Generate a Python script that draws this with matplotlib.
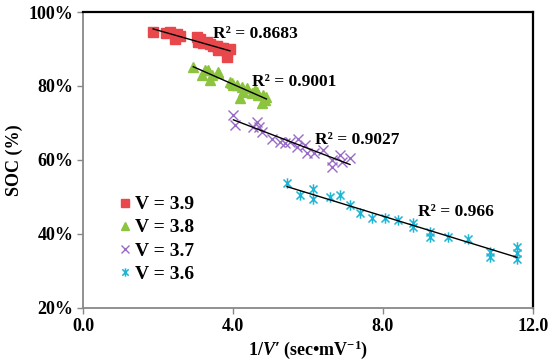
import numpy as np
import matplotlib
matplotlib.use("Agg")
import matplotlib.pyplot as plt
from matplotlib.path import Path

plt.rcParams["font.family"] = ["Liberation Serif", "DejaVu Serif"]
plt.rcParams["font.weight"] = "bold"
plt.rcParams["mathtext.fontset"] = "custom"
plt.rcParams["mathtext.rm"] = "Liberation Serif:bold"
plt.rcParams["mathtext.it"] = "Liberation Serif:italic:bold"
plt.rcParams["mathtext.bf"] = "Liberation Serif:bold"

# --- data ------------------------------------------------------------------
x_39 = [1.87, 2.20, 2.32, 2.50, 2.59, 2.45, 3.03, 3.12, 3.07, 3.20, 3.30, 3.39,
        3.47, 3.58, 3.60, 3.65, 3.74, 3.83, 3.92, 3.83]
y_39 = [94.7, 94.2, 94.7, 94.1, 93.5, 92.6, 93.2, 92.6, 92.0, 91.5, 91.8, 91.3,
        90.8, 90.8, 89.8, 90.2, 90.4, 89.5, 89.9, 87.9]

x_38 = [2.94, 3.16, 3.25, 3.34, 3.43, 3.39, 3.60, 3.61, 3.92, 3.96, 4.00, 4.10,
        4.19, 4.23, 4.27, 4.36, 4.50, 4.59, 4.63, 4.67, 4.76, 4.81, 4.85, 4.89]
y_38 = [85.2, 83.0, 84.3, 84.3, 83.0, 81.6, 83.9, 83.4, 81.2, 80.7, 80.3, 80.3,
        76.7, 79.8, 78.5, 79.4, 78.0, 78.9, 78.5, 77.6, 75.3, 77.6, 76.2, 77.1]

x_37 = [4.01, 4.05, 4.54, 4.63, 4.68, 4.76, 5.03, 5.25, 5.39, 5.52, 5.70, 5.74,
        5.92, 5.96, 6.15, 6.41, 6.63, 6.63, 6.85, 6.90, 7.12]
y_37 = [72.2, 69.5, 69.0, 70.4, 69.0, 67.6, 65.8, 64.9, 64.5, 64.9, 63.6, 65.8,
        64.1, 61.8, 61.8, 62.7, 60.0, 58.2, 61.4, 59.5, 60.5]

x_36 = [5.44, 5.79, 6.13, 6.13, 6.59, 6.85, 7.12, 7.39, 7.70, 8.05, 8.40, 8.80,
        8.80, 9.25, 9.25, 9.73, 10.27, 10.85, 10.85, 11.57, 11.57, 11.57]
y_36 = [53.8, 50.5, 52.2, 49.5, 50.0, 50.5, 47.8, 45.7, 44.3, 44.3, 43.8, 43.0,
        41.9, 40.5, 39.2, 39.2, 38.6, 35.1, 33.8, 36.5, 34.9, 33.2]

labels = ["V = 3.9", "V = 3.8", "V = 3.7", "V = 3.6"]
r2_text = ["R² = 0.8683", "R² = 0.9001", "R² = 0.9027", "R² = 0.966"]
r2_pos = [(3.47, 94.1), (4.50, 81.1), (6.19, 65.4), (8.93, 45.9)]

# Excel-like "star" marker: an x with a vertical stroke
star = Path([(-1, -1), (1, 1), (-1, 1), (1, -1), (0, -1.3), (0, 1.3)],
            [Path.MOVETO, Path.LINETO, Path.MOVETO, Path.LINETO,
             Path.MOVETO, Path.LINETO])

series = [
    (x_39, y_39, dict(marker="s", ms=7, color="#E8474B", mec="#E8474B")),
    (x_38, y_38, dict(marker="^", ms=7.5, color="#8CC43F", mec="#8CC43F")),
    (x_37, y_37, dict(marker="x", ms=7.5, mew=1.0, color="#9A6BC6")),
    (x_36, y_36, dict(marker=star, ms=7.5, mew=1.1, color="#1DB5D5",
                      mfc="none")),
]

fig = plt.figure(figsize=(5.5, 3.64), dpi=100)
ax = fig.add_axes([0.151, 0.154, 0.818, 0.813])

for (xs, ys, st), lab in zip(series, labels):
    ax.plot(xs, ys, ls="none", label=lab, zorder=3, **st)

# linear trendlines
for xs, ys, _ in series:
    xs = np.asarray(xs)
    k, b = np.polyfit(xs, ys, 1)
    xx = np.array([xs.min(), xs.max()])
    ax.plot(xx, k * xx + b, color="black", lw=1.0, zorder=4)

for txt, (tx, ty) in zip(r2_text, r2_pos):
    ax.text(tx, ty, txt, fontsize=12.5, fontweight="bold", va="center",
            ha="left", zorder=5)

ax.set_xlim(0, 12)
ax.set_ylim(20, 100)
ax.set_xticks([0, 4, 8, 12])
ax.set_xticklabels(["0.0", "4.0", "8.0", "12.0"])
ax.set_yticks([20, 40, 60, 80, 100])
ax.set_yticklabels(["20%", "40%", "60%", "80%", "100%"])
ax.tick_params(axis="both", direction="out", length=4, width=1,
               color="#888888", labelsize=13, pad=3)

for s in ("left", "bottom"):
    ax.spines[s].set_color("#888888")
    ax.spines[s].set_linewidth(1.3)
for s in ("top", "right"):
    ax.spines[s].set_color("black")
    ax.spines[s].set_linewidth(1.6)

ax.set_xlabel(r"1/$\mathit{V}$′ (sec•mV$^{-1}$)", fontsize=13,
              fontweight="bold", labelpad=3)
ax.set_ylabel("SOC (%)", fontsize=13, fontweight="bold", labelpad=4)

leg = ax.legend(loc="upper left", bbox_to_anchor=(0.047, 0.425), frameon=False,
                fontsize=14, handlelength=0.75, handletextpad=0.12,
                labelspacing=0.28, borderpad=0.2, markerscale=0.8)

fig.savefig("out.png", dpi=100)
